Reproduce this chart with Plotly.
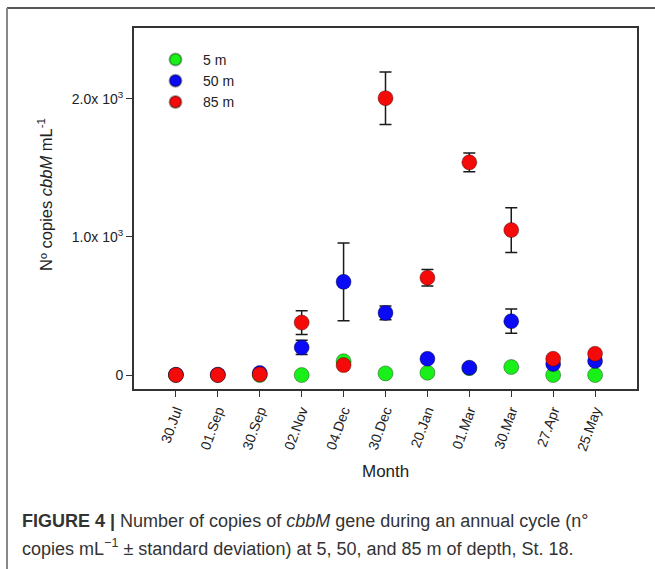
import plotly.graph_objects as go

# Sampling dates (St. 18 annual cycle)
months = ["30.Jul", "01.Sep", "30.Sep", "02.Nov", "04.Dec", "30.Dec",
          "20.Jan", "01.Mar", "30.Mar", "27.Apr", "25.May"]

# cbbM copies per mL at each depth
copies_5m = [0, 0, 0, 0, 100, 12, 17, 50, 58, 0, 0]
copies_50m = [3, 3, 15, 200, 675, 450, 118, 53, 390, 80, 102]
copies_85m = [0, 0, 5, 380, 72, 2005, 705, 1540, 1050, 118, 154]

# Standard deviations (None where no bar is drawn)
sd_5m = [None] * 11
sd_50m = [None, None, None, 52, 282, 50, None, None, 88, None, None]
sd_85m = [None, None, None, 86, None, 190, 60, 68, 162, None, None]

W, H = 655, 569
ML, MR, MT, MB = 134, 18, 28, 180
PW, PH = W - ML - MR, H - MT - MB


def px(x):
    return (x - ML) / PW


def py(y):
    return (H - MB - y) / PH


xpos = list(range(1, len(months) + 1))

fig = go.Figure()
series = [
    ("5 m", copies_5m, sd_5m, "#19f019"),
    ("50 m", copies_50m, sd_50m, "#0a0af5"),
    ("85 m", copies_85m, sd_85m, "#f50a0a"),
]
for name, vals, sd, col in series:
    fig.add_trace(go.Scatter(
        x=xpos, y=vals, name=name, mode="markers",
        marker=dict(size=15, color=col,
                    line=dict(width=1, color="rgba(0,0,0,0.35)")),
        error_y=dict(type="data", array=sd, visible=True,
                     color="#1a1a1a", thickness=1.5, width=6),
    ))

FAM = "Liberation Sans, Arial, sans-serif"
axis_font = dict(family=FAM, size=14, color="#222")

fig.update_xaxes(
    range=[0, 12], tickvals=xpos, ticktext=months, tickangle=-70,
    ticks="outside", ticklen=6, tickcolor="#333", tickwidth=1,
    showgrid=False, zeroline=False, showline=True, mirror=True,
    linecolor="#333", linewidth=2, tickfont=axis_font,
)
fig.update_yaxes(
    range=[-101, 2513], tickvals=[0, 1000, 2000],
    ticktext=["0", "1.0x 10<sup>3</sup>", "2.0x 10<sup>3</sup>"],
    ticks="outside", ticklen=6, tickcolor="#333", tickwidth=1,
    showgrid=False, zeroline=False, showline=True, mirror=True,
    linecolor="#333", linewidth=2, tickfont=axis_font,
)

cap_font = dict(family=FAM, size=18, color="#333")

annotations = [
    dict(x=px(45), y=py(195), text="Nº copies <i>cbbM</i> mL<sup>-1</sup>",
         textangle=-90, showarrow=False,
         font=dict(family=FAM, size=16.5, color="#222"),
         xref="paper", yref="paper", xanchor="center", yanchor="middle"),
    dict(x=px(385), y=py(471), text="Month", showarrow=False,
         font=dict(family=FAM, size=17, color="#222"),
         xref="paper", yref="paper", xanchor="center", yanchor="middle"),
    dict(x=px(20), y=py(521),
         text="<b>FIGURE 4 |</b> Number of copies of <i>cbbM</i> gene during an annual cycle (n°",
         showarrow=False, font=cap_font, xref="paper", yref="paper",
         xanchor="left", yanchor="middle"),
    dict(x=px(20), y=py(547),
         text="copies mL<sup>−1</sup> ± standard deviation) at 5, 50, and 85 m of depth, St. 18.",
         showarrow=False, font=cap_font, xref="paper", yref="paper",
         xanchor="left", yanchor="middle"),
]

shapes = [
    dict(type="line", xref="paper", yref="paper", x0=px(7), x1=px(W + 5),
         y0=py(8), y1=py(8), line=dict(color="#555", width=2)),
    dict(type="line", xref="paper", yref="paper", x0=px(7), x1=px(7),
         y0=py(8), y1=py(H + 5), line=dict(color="#888", width=2)),
]

fig.update_layout(
    width=W, height=H,
    margin=dict(l=ML, r=MR, t=MT, b=MB),
    paper_bgcolor="white", plot_bgcolor="white",
    showlegend=True,
    legend=dict(x=px(148), y=py(44), xanchor="left", yanchor="top",
                bgcolor="rgba(0,0,0,0)", font=dict(family=FAM, size=14, color="#222"),
                itemsizing="constant", itemwidth=45, tracegroupgap=0),
    annotations=annotations, shapes=shapes,
)

fig.write_html("out.html")
